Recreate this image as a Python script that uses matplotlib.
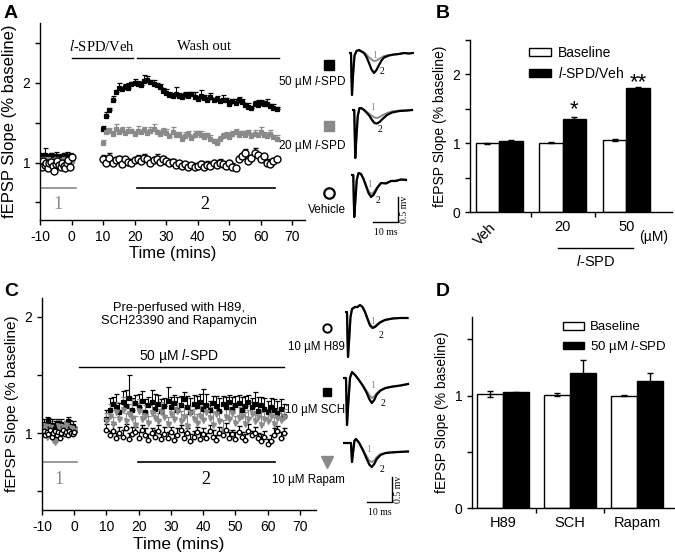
import numpy as np
import matplotlib
matplotlib.use('Agg')
import matplotlib.pyplot as plt
from matplotlib.ticker import MultipleLocator

plt.rcParams['font.family'] = ['Liberation Sans', 'DejaVu Sans']
plt.rcParams['mathtext.fontset'] = 'custom'
plt.rcParams['mathtext.it'] = 'Liberation Sans:italic'
plt.rcParams['mathtext.rm'] = 'Liberation Sans'
plt.rcParams['axes.unicode_minus'] = False
plt.rcParams['axes.linewidth'] = 1.0
plt.rcParams['xtick.major.width'] = 1.0
plt.rcParams['ytick.major.width'] = 1.0
plt.rcParams['ytick.minor.width'] = 1.0
plt.rcParams['xtick.minor.width'] = 1.0

GRAY = '#8a8a8a'
W, H = 675, 560

# ---------------- data: time courses ----------------
base_t = np.arange(-10, 0.01, 0.5)      # baseline sweeps (min)
post_t = np.arange(10, 65.01, 1.0)      # after drug (min)

# panel A
a50_base = [1.06, 1.08, 1.04, 1.10, 1.05, 1.07, 1.03, 1.09, 1.06, 1.04, 1.08,
            1.05, 1.07, 1.03, 1.06, 1.09, 1.04, 1.07, 1.05, 1.08, 1.06]
a50_post = [1.42, 1.58, 1.66, 1.78, 1.88, 1.93, 1.92, 1.95, 1.94, 1.98, 2.00,
            1.99, 1.97, 2.02, 2.03, 2.01, 1.98, 1.97, 1.95, 1.90, 1.87, 1.85,
            1.83, 1.86, 1.84, 1.82, 1.85, 1.83, 1.86, 1.82, 1.80, 1.83, 1.81,
            1.79, 1.82, 1.78, 1.80, 1.77, 1.79, 1.78, 1.74, 1.77, 1.75, 1.79,
            1.76, 1.72, 1.70, 1.68, 1.73, 1.72, 1.75, 1.73, 1.74, 1.71, 1.69, 1.67]
a50_err = [0.04, 0.05, 0.03, 0.06, 0.03, 0.07, 0.03, 0.04, 0.06, 0.03, 0.05,
           0.03, 0.04, 0.08, 0.05, 0.03, 0.06, 0.03, 0.04, 0.03, 0.05, 0.03,
           0.04, 0.09, 0.03, 0.04, 0.03, 0.05, 0.03, 0.06, 0.03, 0.08, 0.04,
           0.03, 0.05, 0.03, 0.04, 0.03, 0.06, 0.03, 0.04, 0.03, 0.05, 0.03,
           0.04, 0.03, 0.05, 0.03, 0.04, 0.07, 0.03, 0.04, 0.06, 0.03, 0.04, 0.03]
a20_base = [1.03, 1.00, 1.05, 1.02, 0.98, 1.04, 1.01, 1.03, 0.99, 1.02, 1.05,
            1.00, 1.03, 1.01, 0.98, 1.04, 1.02, 1.00, 1.03, 1.01, 1.02]
a20_post = [1.25, 1.38, 1.40, 1.36, 1.42, 1.38, 1.41, 1.37, 1.40, 1.39, 1.36,
            1.40, 1.38, 1.41, 1.37, 1.39, 1.42, 1.38, 1.36, 1.40, 1.37, 1.33,
            1.38, 1.35, 1.34, 1.30, 1.33, 1.36, 1.31, 1.34, 1.37, 1.35, 1.32,
            1.34, 1.30, 1.27, 1.24, 1.30, 1.33, 1.35, 1.32, 1.36, 1.38, 1.34,
            1.37, 1.35, 1.38, 1.33, 1.36, 1.34, 1.38, 1.35, 1.33, 1.36, 1.32, 1.30]
a20_err = [0.03, 0.05, 0.03, 0.04, 0.06, 0.03, 0.04, 0.03, 0.05, 0.03, 0.04,
           0.06, 0.03, 0.04, 0.03, 0.05, 0.06, 0.03, 0.04, 0.03, 0.05, 0.03,
           0.06, 0.03, 0.04, 0.03, 0.05, 0.04, 0.03, 0.06, 0.03, 0.04, 0.05,
           0.03, 0.04, 0.03, 0.06, 0.03, 0.04, 0.03, 0.05, 0.03, 0.04, 0.06,
           0.03, 0.05, 0.03, 0.04, 0.05, 0.03, 0.06, 0.03, 0.04, 0.05, 0.03, 0.04]
aveh_base = [0.98, 0.95, 1.02, 0.97, 1.00, 0.93, 0.99, 1.01, 0.96, 0.90, 0.98,
             1.02, 0.97, 0.95, 1.00, 0.96, 0.93, 0.99, 1.03, 0.95, 1.07]
aveh_post = [1.04, 1.00, 1.06, 0.99, 1.03, 1.05, 0.98, 1.04, 1.01, 0.99, 1.03,
             1.05, 1.02, 1.06, 1.04, 1.00, 1.03, 1.05, 1.01, 1.04, 1.02, 0.99,
             1.01, 0.97, 0.99, 0.96, 0.98, 0.95, 0.97, 0.94, 0.96, 0.98, 0.95,
             0.97, 0.96, 0.99, 0.97, 1.00, 0.98, 0.96, 0.99, 0.95, 0.93, 1.04,
             1.08, 1.12, 1.02, 1.06, 1.12, 1.09, 1.05, 1.08, 1.00, 0.98, 1.02, 1.04]
aveh_err = [0.05, 0.03, 0.06, 0.03, 0.04, 0.03, 0.05, 0.03, 0.04, 0.06, 0.03,
            0.04, 0.03, 0.05, 0.03, 0.04, 0.03, 0.06, 0.03, 0.04, 0.03, 0.05,
            0.03, 0.04, 0.03, 0.05, 0.03, 0.04, 0.03, 0.05, 0.03, 0.04, 0.03,
            0.05, 0.03, 0.04, 0.03, 0.05, 0.03, 0.04, 0.03, 0.05, 0.03, 0.04,
            0.03, 0.05, 0.03, 0.04, 0.06, 0.03, 0.04, 0.03, 0.05, 0.03, 0.04, 0.03]
base_err = [0.03, 0.04, 0.03, 0.08, 0.03, 0.04, 0.05, 0.03, 0.04, 0.03, 0.05,
            0.03, 0.04, 0.03, 0.05, 0.03, 0.04, 0.06, 0.03, 0.04, 0.03]

# panel C
csch_base = [1.05, 1.08, 1.03, 1.06, 1.10, 1.04, 1.07, 1.02, 1.06, 1.09, 1.05,
             1.03, 1.08, 1.06, 1.04, 1.07, 1.10, 1.05, 1.03, 1.06, 1.02]
csch_post = [1.12, 1.20, 1.25, 1.22, 1.18, 1.27, 1.23, 1.30, 1.20, 1.26, 1.22,
             1.28, 1.18, 1.24, 1.27, 1.21, 1.25, 1.19, 1.23, 1.28, 1.22, 1.26,
             1.20, 1.24, 1.29, 1.22, 1.18, 1.25, 1.23, 1.27, 1.21, 1.24, 1.20,
             1.26, 1.23, 1.19, 1.25, 1.22, 1.27, 1.21, 1.24, 1.26, 1.20, 1.23,
             1.27, 1.22, 1.25, 1.19, 1.24, 1.21, 1.18, 1.22, 1.20, 1.17, 1.21, 1.15]
csch_err = [0.08, 0.10, 0.06, 0.12, 0.08, 0.09, 0.14, 0.20, 0.10, 0.07, 0.12,
            0.08, 0.11, 0.07, 0.10, 0.13, 0.08, 0.10, 0.07, 0.12, 0.09, 0.07,
            0.11, 0.08, 0.06, 0.10, 0.12, 0.08, 0.09, 0.07, 0.17, 0.10, 0.08,
            0.06, 0.09, 0.11, 0.07, 0.09, 0.06, 0.10, 0.08, 0.07, 0.11, 0.09,
            0.06, 0.08, 0.10, 0.12, 0.07, 0.09, 0.10, 0.08, 0.09, 0.11, 0.08, 0.10]
ch89_base = [1.00, 1.02, 0.98, 1.01, 0.99, 1.03, 0.97, 1.00, 1.02, 0.98, 1.01,
             0.96, 1.00, 1.03, 0.99, 1.01, 0.98, 1.02, 1.00, 0.99, 1.01]
ch89_post = [1.03, 0.98, 1.02, 0.96, 1.00, 0.97, 1.04, 0.95, 0.99, 1.01, 0.96,
             1.03, 0.98, 0.94, 1.00, 0.97, 1.02, 0.95, 0.99, 0.96, 1.01, 0.94,
             0.98, 1.03, 0.96, 1.00, 0.93, 0.97, 1.01, 0.95, 0.99, 0.96, 1.02,
             0.97, 0.94, 1.00, 0.98, 1.03, 0.96, 0.99, 0.95, 1.01, 0.97, 0.94,
             1.02, 0.98, 1.00, 0.96, 0.93, 0.97, 0.91, 0.93, 0.98, 1.02, 0.96, 1.00]
ch89_err = [0.05, 0.04, 0.06, 0.04, 0.05, 0.06, 0.04, 0.05, 0.06, 0.04, 0.05,
            0.04, 0.06, 0.05, 0.04, 0.06, 0.05, 0.04, 0.06, 0.05, 0.04, 0.05,
            0.06, 0.04, 0.05, 0.04, 0.06, 0.05, 0.04, 0.06, 0.05, 0.04, 0.05,
            0.06, 0.04, 0.05, 0.04, 0.06, 0.05, 0.04, 0.06, 0.05, 0.04, 0.05,
            0.06, 0.04, 0.05, 0.04, 0.06, 0.05, 0.04, 0.05, 0.06, 0.04, 0.05, 0.04]
crap_base = [1.04, 1.00, 1.06, 0.97, 1.02, 1.05, 0.99, 0.94, 0.92, 1.01, 1.06,
             1.03, 0.98, 1.05, 1.00, 1.07, 1.02, 0.99, 1.04, 1.01, 1.03]
crap_post = [1.10, 1.15, 1.08, 1.18, 1.12, 1.20, 1.10, 1.16, 1.13, 1.07, 1.19,
             1.12, 1.15, 1.09, 1.17, 1.13, 1.10, 1.18, 1.14, 1.08, 1.16, 1.12,
             1.19, 1.10, 1.14, 1.06, 1.17, 1.12, 1.09, 1.15, 1.11, 1.18, 1.13,
             1.07, 1.16, 1.10, 1.02, 1.14, 1.12, 1.17, 1.09, 1.13, 1.15, 1.08,
             1.12, 1.16, 1.10, 1.14, 1.07, 1.12, 1.10, 1.15, 1.08, 1.13, 1.11, 1.14]
crap_err = [0.07, 0.10, 0.06, 0.09, 0.08, 0.11, 0.07, 0.09, 0.16, 0.08, 0.10,
            0.07, 0.09, 0.06, 0.10, 0.08, 0.07, 0.09, 0.11, 0.06, 0.08, 0.10,
            0.07, 0.09, 0.08, 0.10, 0.06, 0.09, 0.07, 0.08, 0.10, 0.07, 0.09,
            0.11, 0.06, 0.08, 0.09, 0.07, 0.10, 0.08, 0.06, 0.09, 0.07, 0.10,
            0.08, 0.06, 0.09, 0.07, 0.11, 0.08, 0.07, 0.09, 0.06, 0.08, 0.10, 0.07]

# ---------------- data: bar charts ----------------
b_groups = ['Veh', '20', '50']
b_base = [1.00, 1.01, 1.04]
b_base_err = [0.01, 0.005, 0.015]
b_spd = [1.03, 1.35, 1.80]
b_spd_err = [0.01, 0.03, 0.01]

d_groups = ['H89', 'SCH', 'Rapam']
d_base = [1.015, 1.01, 1.00]
d_base_err = [0.025, 0.01, 0.005]
d_spd = [1.03, 1.20, 1.13]
d_spd_err = [0.005, 0.12, 0.07]

# ---------------- data: example traces (ms, mV) ----------------
tA1 = [0, 0.8, 1.0, 1.2, 1.6, 2.2, 3, 4, 5, 6, 7, 8, 9, 10, 11, 12, 13, 14, 16, 18, 20, 22, 24, 25.5]
vA1_2 = [0, 0, -0.5, -0.84, -0.45, -0.05, 0.04, 0.06, 0.03, 0.0, -0.08, -0.2, -0.33, -0.4,
         -0.34, -0.24, -0.15, -0.09, -0.05, -0.03, -0.02, 0.0, -0.01, 0.0]
vA1_1 = [0, 0, -0.5, -0.84, -0.45, -0.05, 0.04, 0.06, 0.03, 0.01, -0.03, -0.09, -0.13, -0.16,
         -0.15, -0.12, -0.09, -0.06, -0.04, -0.03, -0.02, 0.0, -0.01, 0.0]
tA2 = [0, 0.9, 1.1, 1.3, 1.7, 2.3, 3.0, 4, 5, 6, 7, 8, 9, 10, 11, 12, 14, 16, 19, 22, 24]
vA2_2 = [0, 0, -0.5, -0.96, -0.6, -0.12, 0.04, 0.03, -0.01, -0.06, -0.12, -0.2, -0.26, -0.27,
         -0.24, -0.19, -0.1, -0.05, -0.02, -0.01, 0.0]
vA2_1 = [0, 0, -0.5, -0.96, -0.6, -0.12, 0.04, 0.03, 0.0, -0.04, -0.08, -0.12, -0.15, -0.16,
         -0.14, -0.11, -0.06, -0.03, -0.01, -0.01, 0.0]
tA3 = [0, 0.9, 1.1, 1.3, 1.7, 2.3, 3.0, 4, 5, 6, 7, 8, 9, 10.5, 12, 14, 16, 18, 20, 22]
vA3_2 = [0, 0, -0.45, -0.84, -0.55, -0.1, 0.04, 0.02, -0.08, -0.22, -0.36, -0.44, -0.4, -0.26,
         -0.16, -0.17, -0.12, -0.12, -0.09, -0.1]
vA3_1 = [0, 0, -0.45, -0.84, -0.55, -0.1, 0.04, 0.02, -0.07, -0.2, -0.32, -0.38, -0.35, -0.24,
         -0.16, -0.16, -0.12, -0.11, -0.09, -0.09]
tD1 = [0, 0.8, 1.0, 1.2, 1.6, 2.2, 2.8, 4, 5, 6, 7, 8, 9, 10, 11, 12, 14, 16, 19, 22, 25]
vD1_2 = [0, 0, -0.5, -0.9, -0.6, -0.1, 0.06, 0.1, 0.1, 0.14, 0.1, 0.0, -0.14, -0.27, -0.32,
         -0.3, -0.21, -0.16, -0.13, -0.12, -0.12]
vD1_1 = [0, 0, -0.5, -0.9, -0.6, -0.1, 0.06, 0.1, 0.1, 0.14, 0.1, 0.01, -0.12, -0.24, -0.3,
         -0.28, -0.2, -0.16, -0.13, -0.12, -0.12]
tD2 = [0, 1.2, 1.4, 1.6, 2.0, 2.8, 3.6, 5, 6.5, 8, 9.5, 10.5, 11.5, 12.5, 13.5, 15, 17, 20, 23, 26]
vD2_2 = [0, 0, -0.5, -0.94, -0.6, 0.0, 0.12, 0.05, -0.05, -0.16, -0.3, -0.42, -0.5, -0.44,
         -0.33, -0.25, -0.2, -0.17, -0.15, -0.12]
vD2_1 = [0, 0, -0.5, -0.94, -0.6, 0.0, 0.12, 0.05, -0.05, -0.15, -0.26, -0.34, -0.4, -0.37,
         -0.3, -0.24, -0.2, -0.17, -0.15, -0.12]
tD3 = [0, 3.2, 3.4, 3.6, 4.0, 4.6, 5.2, 6.5, 8, 9.5, 10.5, 11.5, 12.5, 13.5, 15, 17, 19, 22, 26]
vD3_2 = [0, 0, -0.2, -0.38, -0.2, 0.05, 0.08, 0.0, -0.15, -0.32, -0.43, -0.48, -0.42, -0.32,
         -0.24, -0.2, -0.19, -0.18, -0.17]
vD3_1 = [0, 0, -0.2, -0.38, -0.2, 0.05, 0.08, 0.0, -0.13, -0.27, -0.35, -0.38, -0.35, -0.28,
         -0.22, -0.2, -0.19, -0.18, -0.17]

fig = plt.figure(figsize=(6.75, 5.6), dpi=100)


def px_axes(l, t, r, b):
    return fig.add_axes([l / W, 1 - b / H, (r - l) / W, (b - t) / H])


def style(ax):
    ax.spines['top'].set_visible(False)
    ax.spines['right'].set_visible(False)
    ax.tick_params(which='both', direction='out', length=3.5, labelsize=10)


def course(ax, base, post, berr, perr, fmt, fc, ec, ms, ecol, mew=0.9):
    t = np.concatenate([base_t, post_t])
    y = np.concatenate([base, post])
    e = np.concatenate([berr, perr])
    ax.errorbar(t, y, yerr=[np.zeros_like(e), e], fmt=fmt, mfc=fc, mec=ec, ms=ms,
                mew=mew, ecolor=ecol, elinewidth=0.8, capsize=1.8, capthick=0.8)


# ---------------- panel A ----------------
axA = px_axes(40, 23, 305, 220)
style(axA)
course(axA, a50_base, a50_post, base_err, a50_err, 's', 'black', 'black', 3.4, 'black')
course(axA, a20_base, a20_post, base_err, a20_err, 's', GRAY, GRAY, 3.4, GRAY)
course(axA, aveh_base, aveh_post, base_err, aveh_err, 'o', 'white', 'black', 5.0, 'black', 1.0)
axA.set_xlim(-10, 74)
axA.set_ylim(0.28, 2.75)
axA.set_xticks(range(-10, 71, 10))
axA.set_yticks([1, 2])
axA.yaxis.set_minor_locator(MultipleLocator(0.5))
axA.set_xlabel('Time (mins)', fontsize=12, labelpad=2)
axA.set_ylabel('fEPSP Slope (% baseline)', fontsize=12, labelpad=4)
axA.plot([0.1, 19.4], [2.31, 2.31], color='black', lw=1)
axA.plot([20.6, 65.8], [2.31, 2.31], color='black', lw=1)
axA.text(9.8, 2.46, r'$\mathit{l}$-SPD/Veh', family='Liberation Serif', math_fontfamily='stix',
         fontsize=10.5, ha='center', va='center')
axA.text(42, 2.46, 'Wash out', family='Liberation Serif', fontsize=10.5, ha='center', va='center')
axA.plot([-10, 1.4], [0.675, 0.675], color=GRAY, lw=1.2)
axA.plot([20.6, 64.5], [0.675, 0.675], color='black', lw=1.2)
axA.text(-4.3, 0.47, '1', color=GRAY, family='Liberation Serif', fontsize=13, ha='center', va='center')
axA.text(42.2, 0.47, '2', color='black', family='Liberation Serif', fontsize=13, ha='center', va='center')

# ---------------- panel C ----------------
axC = px_axes(42, 298, 316, 510)
style(axC)
course(axC, csch_base, csch_post, base_err, csch_err, 's', 'black', 'black', 2.8, 'black')
course(axC, crap_base, crap_post, base_err, crap_err, 'v', GRAY, GRAY, 3.6, GRAY)
course(axC, ch89_base, ch89_post, base_err, ch89_err, 'o', 'white', 'black', 3.2, 'black', 1.0)
axC.set_xlim(-10, 75)
axC.set_ylim(0.34, 2.16)
axC.set_xticks(range(-10, 71, 10))
axC.set_yticks([1, 2])
axC.yaxis.set_minor_locator(MultipleLocator(0.5))
axC.set_xlabel('Time (mins)', fontsize=12.5, labelpad=2)
axC.set_ylabel('fEPSP Slope (% baseline)', fontsize=11, labelpad=4)
axC.text(32.4, 2.02, 'Pre-perfused with H89,\nSCH23390 and Rapamycin', fontsize=9.3,
         ha='center', va='center', linespacing=1.15)
axC.text(32.4, 1.665, r'50 µM $\mathit{l}$-SPD', fontsize=10, ha='center', va='center')
axC.plot([1.5, 65], [1.57, 1.57], color='black', lw=1)
axC.plot([-10, 1.0], [0.75, 0.75], color=GRAY, lw=1.2)
axC.plot([19.8, 62.3], [0.75, 0.75], color='black', lw=1.2)
axC.text(-4.8, 0.6, '1', color=GRAY, family='Liberation Serif', fontsize=13, ha='center', va='center')
axC.text(40.7, 0.6, '2', color='black', family='Liberation Serif', fontsize=13, ha='center', va='center')


# ---------------- bar panels ----------------
def bars(ax, groups, base, base_err, spd, spd_err, w):
    x = np.arange(len(groups))
    ekw = dict(capsize=2.2, elinewidth=1.0, capthick=1.0, ecolor='black')
    b1 = ax.bar(x - w / 2, base, w, yerr=base_err, color='white', edgecolor='black', lw=1.0,
                error_kw=ekw)
    b2 = ax.bar(x + w / 2, spd, w, yerr=spd_err, color='black', edgecolor='black', lw=1.0,
                error_kw=ekw)
    ax.set_xticks(x, groups)
    ax.set_xticks(x[:-1] + 0.5, minor=True)
    ax.tick_params(axis='x', which='major', length=0, labelsize=10.5, pad=6)
    ax.tick_params(axis='x', which='minor', length=3.5)
    return x, b1, b2


axB = px_axes(470, 40, 672, 212)
style(axB)
xb, bb1, bb2 = bars(axB, b_groups, b_base, b_base_err, b_spd, b_spd_err, 0.37)
axB.set_xlim(-0.46, 2.72)
axB.set_ylim(0, 2.5)
axB.set_yticks([0, 1, 2])
axB.yaxis.set_minor_locator(MultipleLocator(0.5))
axB.set_ylabel('fEPSP Slope (% baseline)', fontsize=10, labelpad=4)
lbl = axB.get_xticklabels()
lbl[0].set_rotation(45)
lbl[0].set_ha('right')
lbl[0].set_va('top')
axB.text(2.2, -0.105, '(µM)', transform=axB.get_xaxis_transform(),
         fontsize=10, ha='left', va='top')
axB.plot([0.93, 2.11], [-0.21, -0.21], color='black', lw=1,
         transform=axB.get_xaxis_transform(), clip_on=False)
axB.text(1.52, -0.245, r'$\mathit{l}$-SPD', transform=axB.get_xaxis_transform(),
         fontsize=10.5, ha='center', va='top')
axB.text(xb[1] + 0.185, 1.40, '*', fontsize=16, ha='center', va='baseline')
axB.text(xb[2] + 0.185, 1.80, '**', fontsize=16, ha='center', va='baseline')
axB.legend([bb1, bb2], ['Baseline', r'$\mathit{l}$-SPD/Veh'], loc='upper left',
           bbox_to_anchor=(0.23, 1.04), frameon=False, fontsize=10,
           handlelength=1.6, handleheight=0.55, handletextpad=0.5, labelspacing=0.45)

axD = px_axes(472, 317, 674, 508)
style(axD)
xd, db1, db2 = bars(axD, d_groups, d_base, d_base_err, d_spd, d_spd_err, 0.39)
axD.set_xlim(-0.46, 2.55)
axD.set_ylim(0, 1.7)
axD.set_yticks([0, 1])
axD.yaxis.set_minor_locator(MultipleLocator(0.5))
axD.set_ylabel('fEPSP Slope (% baseline)', fontsize=10, labelpad=4)
axD.legend([db1, db2], ['Baseline', r'50 µM $\mathit{l}$-SPD'], loc='upper left',
           bbox_to_anchor=(0.39, 1.04), frameon=False, fontsize=9.5,
           handlelength=1.6, handleheight=0.55, handletextpad=0.5, labelspacing=0.45)


# ---------------- example traces ----------------
def trace_ax(x0, base):
    # 2.5 px per ms, 50 px per mV
    ax = px_axes(x0, base - 25, x0 + 70, base + 70)
    ax.set_xlim(0, 28)
    ax.set_ylim(-1.4, 0.5)
    ax.axis('off')
    ax.patch.set_alpha(0)
    return ax


def draw_trace(ax, t, v1, v2, p1, p2):
    ax.plot(t, v1, color=GRAY, lw=1.4)
    ax.plot(t, v2, color='black', lw=1.6)
    ax.text(p1[0], p1[1], '1', color=GRAY, family='Liberation Serif', fontsize=7,
            ha='center', va='center')
    ax.text(p2[0], p2[1], '2', color='black', family='Liberation Serif', fontsize=7,
            ha='center', va='center')


def scale_bar(ax, t0, v0):
    ax.plot([t0, t0 + 10, t0 + 10], [v0, v0, v0 + 0.5], color='black', lw=1, clip_on=False)
    ax.text(t0 + 5, v0 - 0.12, '10 ms', family='Liberation Serif', fontsize=7,
            ha='center', va='top')
    ax.text(t0 + 12.5, v0 + 0.25, '0.5 mv', family='Liberation Serif', fontsize=7,
            rotation=90, ha='center', va='center')


ta = trace_ax(349, 53)
draw_trace(ta, tA1, vA1_1, vA1_2, (10.4, -0.06), (13.0, -0.36))
ta = trace_ax(352, 110)
draw_trace(ta, tA2, vA2_1, vA2_2, (8.4, 0.04), (11.2, -0.4))
ta = trace_ax(351, 175)
draw_trace(ta, tA3, vA3_1, vA3_2, (7.6, -0.2), (10.8, -0.52))
scale_bar(ta, 8.8, -0.94)

td = trace_ax(345, 312)
draw_trace(td, tD1, vD1_1, vD1_2, (11.2, -0.2), (14.4, -0.46))
td = trace_ax(343, 378)
draw_trace(td, tD2, vD2_1, vD2_2, (12.0, -0.14), (16.0, -0.5))
td = trace_ax(343, 443)
draw_trace(td, tD3, vD3_1, vD3_2, (10.4, -0.12), (15.6, -0.52))
scale_bar(td, 9.6, -1.18)

# ---------------- symbol keys and panel letters ----------------
ov = fig.add_axes([0, 0, 1, 1])
ov.set_xlim(0, W)
ov.set_ylim(H, 0)
ov.axis('off')
ov.patch.set_alpha(0)
ov.plot(329, 65, 's', color='black', ms=6.5)
ov.plot(329, 126, 's', color=GRAY, ms=6.5)
ov.plot(329, 193, 'o', mfc='white', mec='black', ms=7.5, mew=1.6)
for y, s in [(82, r'50 µM $\mathit{l}$-SPD'), (146, r'20 µM $\mathit{l}$-SPD'), (210, 'Vehicle')]:
    ov.text(346, y, s, fontsize=8.5, ha='right', va='center')
ov.plot(327, 328, 'o', mfc='white', mec='black', ms=6, mew=1.4)
ov.plot(327, 392, 's', color='black', ms=5.5)
ov.plot(327, 462, 'v', color=GRAY, ms=8)
for y, s in [(347, '10 µM H89'), (410, '10 µM SCH'), (480, '10 µM Rapam')]:
    ov.text(345, y, s, fontsize=8.3, ha='right', va='center')

for x, y, s in [(4, 14, 'A'), (436, 14, 'B'), (4, 292, 'C'), (436, 292, 'D')]:
    fig.text(x / W, 1 - y / H, s, fontsize=14, fontweight='bold', ha='left', va='center')

fig.savefig('out.png', dpi=100)
